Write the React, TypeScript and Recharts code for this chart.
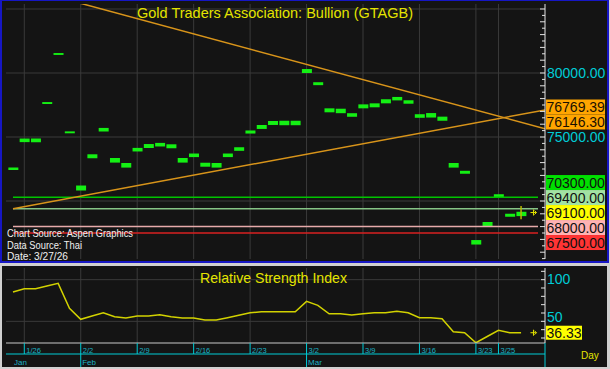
import React from 'react'
import {
  ComposedChart,
  Bar,
  Line,
  XAxis,
  YAxis,
  CartesianGrid,
  ReferenceLine,
  ReferenceDot,
} from 'recharts'

// trading days shown on the chart
const DATES = [
  '1/23', '1/26', '1/27', '1/28', '1/29', '1/30',
  '2/2', '2/3', '2/4', '2/5', '2/6', '2/9', '2/10', '2/11', '2/12', '2/13',
  '2/16', '2/17', '2/18', '2/19', '2/20', '2/23', '2/24', '2/25', '2/26', '2/27',
  '3/2', '3/3', '3/4', '3/5', '3/6', '3/9', '3/10', '3/11', '3/12', '3/13',
  '3/16', '3/17', '3/18', '3/19', '3/20', '3/23', '3/24', '3/25', '3/26', '3/27',
]

const HIGHS = [
  72620, 74880, 74880, 77730, 81560, 75440, 71210, 73650, 75710, 73360,
  72970, 74150, 74450, 74540, 74430, 73360, 73710, 72990, 72970, 73710,
  74200, 75510, 75940, 76250, 76270, 76270, 80310, 79280, 77240, 77210,
  76860, 77550, 77630, 77950, 78130, 77870, 76780, 76870, 76590, 72970,
  72360, 66950, 68360, 70530, 69000, 69160,
]

const LOWS = [
  72430, 74600, 74600, 77580, 81410, 75290, 70820, 73340, 75430, 73000,
  72610, 73870, 74140, 74260, 74120, 73000, 73430, 72680, 72610, 73430,
  73920, 75270, 75630, 75940, 75920, 75920, 80000, 79050, 76930, 76860,
  76580, 77240, 77320, 77630, 77860, 77600, 76500, 76520, 76270, 72610,
  72130, 66600, 68000, 70300, 68770, 68820,
]

const RSI = [
  85.1, 89.1, 89.1, 92.3, 95.6, 65.6, 52.4, 56.4, 60.3, 55.5,
  54.0, 56.4, 56.4, 57.9, 55.5, 54.0, 54.0, 51.6, 51.6, 54.3,
  57.2, 60.3, 61.5, 61.5, 61.5, 61.5, 74.0, 69.2, 59.1, 59.1,
  57.6, 59.1, 60.3, 60.3, 62.0, 60.3, 54.3, 54.3, 53.1, 37.5,
  36.3, 24.3, 31.8, 39.2, 36.3, 36.33,
]

const WEEK_LABELS = ['1/26', '2/2', '2/9', '2/16', '2/23', '3/2', '3/9', '3/16', '3/23', '3/25']
const MONTH_LABELS = ['Jan', 'Feb', 'Mar']
const MONTH_FIRST_DAYS = ['', '2/2', '3/2']

const PRICE_GRID = [70000, 75000, 80000, 85000]
const PRICE_AXIS_LABELS = [80000, 75000]
const LEVELS = [70300, 69400, 68000, 67500]
const LAST_PRICE = 69100
const TREND_UP_DATES = ['1/23', '3/27']
const TREND_UP_VALUES = [69400, 76769.39]
const TREND_DOWN_DATES = ['2/2', '3/27']
const TREND_DOWN_VALUES = [85440, 76146.3]

const RSI_GRID = [50, 100]
const RSI_AXIS_LABELS = [100, 50]
const RSI_LAST = 36.33

// styles
const FONT = '"Liberation Sans", Arial, sans-serif'
const BG = '#141414'
const GRID = '#3a3a3a'
const BLUE = '#1616c4'
const YELLOW = '#e4e400'
const CYAN = '#00ccd6'
const TEAL = '#1cb2c4'
const AXIS_WHITE = '#e4e4e4'
const BAR_GREEN = '#14f014'
const TREND = '#d8941a'
const LEVEL_COLORS: Record<number, string> = {
  70300: '#00c400',
  69400: '#86c486',
  68000: '#e6aaaa',
  67500: '#d82020',
}
const BOX_COLORS: Record<number, string> = {
  70300: '#00e000',
  69400: '#a2e2a2',
  68000: '#ffb2b2',
  67500: '#ff3434',
}

const X_MIN = -0.62
const X_MAX = 47.12
const P_MIN = 65470
const P_MAX = 85390
const R_MIN = 24
const R_MAX = 114

const idx = (d: string) => DATES.indexOf(d)
const weekIdx = WEEK_LABELS.map(idx)

function lineAt(dates: string[], values: number[], x: number) {
  const x0 = idx(dates[0]), x1 = idx(dates[1])
  return values[0] + ((values[1] - values[0]) * (x - x0)) / (x1 - x0)
}

const barData = DATES.map((d, i) => ({ i, date: d, range: [LOWS[i], HIGHS[i]] }))
const rsiData = DATES.map((d, i) => ({ i, date: d, v: RSI[i] }))

// right-axis value boxes, pushed apart so they do not overlap
const TOP_PLOT_H = 255
const LABEL_GAP = 15 * (P_MAX - P_MIN) / TOP_PLOT_H

type Lab = { value: number; pos: number; fixed: boolean; bg?: string; fg?: string }

function layoutLabels(items: Lab[]) {
  const list = [...items].sort((a, b) => b.value - a.value)
  for (let n = 0; n < 300; n++) {
    let moved = false
    for (let k = 0; k < list.length - 1; k++) {
      const a = list[k], b = list[k + 1]
      const overlap = LABEL_GAP - (a.pos - b.pos)
      if (overlap > 0.5 && !(a.fixed && b.fixed)) {
        moved = true
        if (a.fixed) b.pos -= overlap
        else if (b.fixed) a.pos += overlap
        else { a.pos += overlap / 2; b.pos -= overlap / 2 }
      }
    }
    if (!moved) break
  }
  return list
}

const priceLabels = layoutLabels([
  ...PRICE_AXIS_LABELS.map(v => ({ value: v, pos: v, fixed: true })),
  { value: TREND_UP_VALUES[1], pos: TREND_UP_VALUES[1], fixed: false, bg: '#ffa500', fg: '#1a1000' },
  { value: TREND_DOWN_VALUES[1], pos: TREND_DOWN_VALUES[1], fixed: false, bg: '#ffa500', fg: '#1a1000' },
  ...LEVELS.map(v => ({ value: v, pos: v, fixed: false, bg: BOX_COLORS[v], fg: '#101010' })),
  { value: LAST_PRICE, pos: LAST_PRICE, fixed: true, bg: '#ffff00', fg: '#101010' },
])
const priceBoxes = priceLabels.filter(l => l.bg)
const boxByPos = new Map(priceBoxes.map(b => [b.pos, b]))

const priceTicks: number[] = []
for (let v = 65500; v <= 85000; v += 500) priceTicks.push(v)
const rsiTicks: number[] = []
for (let v = 30; v <= 110; v += 10) rsiTicks.push(v)

function LeftPriceTick(props: any) {
  const { x, y, payload } = props
  const len = payload.value % 1000 === 0 ? 5 : 3
  return <line x1={x} x2={x + len} y1={y} y2={y} stroke={AXIS_WHITE} />
}

function RightPriceTick(props: any) {
  const { x, y, payload } = props
  const v = payload.value
  const box = boxByPos.get(v)
  if (box) {
    return (
      <g>
        <rect x={x + 1} y={y - 7.5} width={59} height={15} fill={box.bg} />
        <text x={x + 1.5} y={y + 5} fontSize={14} fontFamily={FONT} fill={box.fg}>
          {box.value.toFixed(2)}
        </text>
      </g>
    )
  }
  const len = v % 1000 === 0 ? 5 : 3
  return (
    <g>
      <line x1={x - len} x2={x} y1={y} y2={y} stroke={AXIS_WHITE} />
      {PRICE_AXIS_LABELS.includes(v) && (
        <text x={x + 2} y={y + 5} fontSize={14} fontFamily={FONT} fill={CYAN}>
          {v.toFixed(2)}
        </text>
      )}
    </g>
  )
}

function LeftRsiTick(props: any) {
  const { x, y } = props
  return <line x1={x} x2={x + 4} y1={y} y2={y} stroke={AXIS_WHITE} />
}

function RightRsiTick(props: any) {
  const { x, y, payload } = props
  const v = payload.value
  if (v === RSI_LAST) {
    return (
      <g>
        <rect x={x + 1} y={y - 7} width={36} height={14} fill="#ffff00" />
        <text x={x + 1.5} y={y + 5} fontSize={14} fontFamily={FONT} fill="#101010">{v.toFixed(2)}</text>
      </g>
    )
  }
  return (
    <g>
      <line x1={x - 4} x2={x} y1={y} y2={y} stroke={AXIS_WHITE} />
      {RSI_AXIS_LABELS.includes(v) && (
        <text x={x + 2} y={y + (v === 50 ? 1 : 4.5)} fontSize={14} fontFamily={FONT} fill={CYAN}>{v}</text>
      )}
    </g>
  )
}

function DateTick(props: any) {
  const { x, y, payload } = props
  const k = weekIdx.indexOf(payload.value)
  return (
    <g>
      <line x1={x} x2={x} y1={y} y2={y + 11} stroke={CYAN} />
      {k >= 0 && (
        <text x={x + 2} y={y + 9.5} fontSize={7.5} fontFamily={FONT} fill={TEAL}>{WEEK_LABELS[k]}</text>
      )}
    </g>
  )
}

const monthIdx = [X_MIN, ...MONTH_FIRST_DAYS.slice(1).map(idx), X_MAX]

function MonthTick(props: any) {
  const { x, y, payload } = props
  const k = monthIdx.indexOf(payload.value)
  const label = MONTH_LABELS[k]
  const atEdge = payload.value === X_MIN
  return (
    <g>
      {!atEdge && <line x1={x} x2={x} y1={y} y2={y + 13} stroke={CYAN} />}
      {label && (
        <text x={x + (atEdge ? 8 : 1.5)} y={y + 10.5} fontSize={8} fontFamily={FONT} fill={TEAL}>{label}</text>
      )}
    </g>
  )
}

function LastMarker(props: any) {
  const { cx, cy } = props
  return (
    <g stroke={YELLOW} strokeWidth={1}>
      <line x1={cx - 3} x2={cx + 3} y1={cy} y2={cy} />
      <line x1={cx} x2={cx} y1={cy - 3} y2={cy + 3} />
      <line x1={cx + 1} x2={cx + 3} y1={cy - 2} y2={cy} />
      <line x1={cx + 1} x2={cx + 3} y1={cy + 2} y2={cy} />
    </g>
  )
}

export default function App() {
  const last = DATES.length - 1
  return (
    <div style={{ position: 'absolute', left: 0, top: 0, width: 610, height: 369, background: '#d0d0d0', overflow: 'hidden', fontFamily: FONT }}>
      <div style={{ position: 'absolute', left: 0, top: 0, width: 609, height: 263, boxSizing: 'border-box', background: BG, borderStyle: 'solid', borderColor: BLUE, borderWidth: '1px 2px 2px 2px' }} />
      <div style={{ position: 'absolute', left: 2, top: 266, width: 605, height: 101, background: BG }} />

      <div style={{ position: 'absolute', left: 0, top: 0 }}>
        <ComposedChart width={610} height={263} data={barData} margin={{ top: 4, right: 0, bottom: 4, left: 6 }}>
          <XAxis type="number" dataKey="i" domain={[X_MIN, X_MAX]} allowDataOverflow hide />
          <YAxis
            yAxisId="l"
            orientation="left"
            mirror
            width={0}
            type="number"
            domain={[P_MIN, P_MAX]}
            allowDataOverflow
            ticks={priceTicks}
            interval={0}
            tickSize={0}
            tickMargin={0}
            tickLine={false}
            axisLine={{ stroke: AXIS_WHITE }}
            tick={LeftPriceTick}
          />
          <YAxis
            yAxisId="r"
            orientation="right"
            width={65}
            type="number"
            domain={[P_MIN, P_MAX]}
            allowDataOverflow
            ticks={[...priceTicks, ...priceBoxes.map(b => b.pos)]}
            interval={0}
            tickSize={0}
            tickMargin={0}
            tickLine={false}
            axisLine={{ stroke: AXIS_WHITE }}
            tick={RightPriceTick}
          />
          <CartesianGrid yAxisId="r" horizontalValues={PRICE_GRID} verticalValues={weekIdx} stroke={GRID} />
          <Bar yAxisId="r" dataKey="range" barSize={10} fill={BAR_GREEN} isAnimationActive={false} />
          {LEVELS.map(v => (
            <ReferenceLine
              key={v}
              yAxisId="r"
              segment={[{ x: 0, y: v }, { x: 46.5, y: v }]}
              stroke={LEVEL_COLORS[v]}
              strokeWidth={1.5}
            />
          ))}
          <ReferenceLine
            yAxisId="r"
            segment={[
              { x: idx(TREND_UP_DATES[0]), y: TREND_UP_VALUES[0] },
              { x: X_MAX, y: lineAt(TREND_UP_DATES, TREND_UP_VALUES, X_MAX) },
            ]}
            stroke={TREND}
            strokeWidth={1.5}
            ifOverflow="hidden"
          />
          <ReferenceLine
            yAxisId="r"
            segment={[
              { x: X_MIN, y: lineAt(TREND_DOWN_DATES, TREND_DOWN_VALUES, X_MIN) },
              { x: X_MAX, y: lineAt(TREND_DOWN_DATES, TREND_DOWN_VALUES, X_MAX) },
            ]}
            stroke={TREND}
            strokeWidth={1.5}
            ifOverflow="hidden"
          />
          {/* cursor on the last bar */}
          <ReferenceLine
            yAxisId="r"
            segment={[{ x: last, y: HIGHS[last] + 450 }, { x: last, y: LOWS[last] - 250 }]}
            stroke="#b8b800"
            strokeWidth={1.5}
          />
          <ReferenceDot yAxisId="r" x={46.1} y={LAST_PRICE} r={3} shape={LastMarker} />
        </ComposedChart>
      </div>

      <div style={{ position: 'absolute', left: 0, top: 266 }}>
        <ComposedChart width={610} height={101} data={rsiData} margin={{ top: 2, right: 0, bottom: 0, left: 6 }}>
          <XAxis
            xAxisId="d"
            type="number"
            dataKey="i"
            domain={[X_MIN, X_MAX]}
            allowDataOverflow
            ticks={[...weekIdx, X_MAX]}
            interval={0}
            height={11}
            tickSize={0}
            tickMargin={0}
            tickLine={false}
            axisLine={{ stroke: '#c8c8c8' }}
            tick={DateTick}
          />
          <XAxis
            xAxisId="m"
            type="number"
            dataKey="i"
            domain={[X_MIN, X_MAX]}
            allowDataOverflow
            ticks={monthIdx}
            interval={0}
            height={13}
            tickSize={0}
            tickMargin={0}
            tickLine={false}
            axisLine={{ stroke: CYAN }}
            tick={MonthTick}
          />
          <YAxis
            yAxisId="l"
            orientation="left"
            mirror
            width={0}
            type="number"
            domain={[R_MIN, R_MAX]}
            allowDataOverflow
            ticks={rsiTicks}
            interval={0}
            tickSize={0}
            tickMargin={0}
            tickLine={false}
            axisLine={{ stroke: AXIS_WHITE }}
            tick={LeftRsiTick}
          />
          <YAxis
            yAxisId="r"
            orientation="right"
            width={65}
            type="number"
            domain={[R_MIN, R_MAX]}
            allowDataOverflow
            ticks={[...rsiTicks, RSI_LAST]}
            interval={0}
            tickSize={0}
            tickMargin={0}
            tickLine={false}
            axisLine={{ stroke: AXIS_WHITE }}
            tick={RightRsiTick}
          />
          <CartesianGrid xAxisId="d" yAxisId="r" horizontalValues={RSI_GRID} verticalValues={weekIdx} stroke={GRID} />
          <Line xAxisId="d" yAxisId="r" dataKey="v" stroke="#d2d200" strokeWidth={1.5} dot={false} isAnimationActive={false} />
          <ReferenceDot xAxisId="d" yAxisId="r" x={46.1} y={RSI_LAST} r={3} shape={LastMarker} />
        </ComposedChart>
      </div>

      <svg width={610} height={369} style={{ position: 'absolute', left: 0, top: 0, pointerEvents: 'none' }} fontFamily={FONT}>
        <text x={137} y={18} fontSize={15} textLength={276} lengthAdjust="spacingAndGlyphs" fill={YELLOW}>
          Gold Traders Association: Bullion (GTAGB)
        </text>
        <text x={7} y={236.5} fontSize={11} textLength={126} lengthAdjust="spacingAndGlyphs" fill="#f0f0f0">Chart Source: Aspen Graphics</text>
        <text x={7} y={248.5} fontSize={11} textLength={75} lengthAdjust="spacingAndGlyphs" fill="#f0f0f0">Data Source: Thai</text>
        <text x={7} y={260} fontSize={11} textLength={61} lengthAdjust="spacingAndGlyphs" fill="#f0f0f0">Date: 3/27/26</text>
        <text x={200} y={282.5} fontSize={15} textLength={147} lengthAdjust="spacingAndGlyphs" fill={YELLOW}>Relative Strength Index</text>
        <text x={581} y={359} fontSize={10} fill={YELLOW}>Day</text>
      </svg>
    </div>
  )
}
